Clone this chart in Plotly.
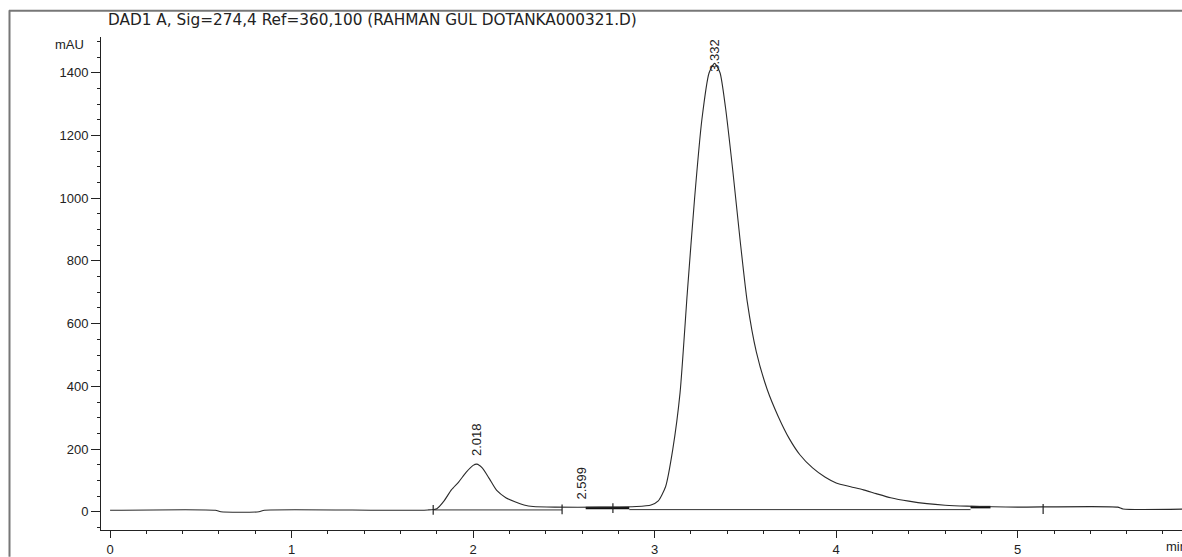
import plotly.graph_objects as go

# --- data ---
time_min = [0.0, 0.58, 0.61, 0.82, 0.85, 1.5, 1.75, 1.80, 1.84, 1.88, 1.92, 1.96, 2.00, 2.02,
            2.05, 2.09, 2.13, 2.18, 2.23, 2.28, 2.33, 2.45, 2.7, 2.9, 2.98, 3.02, 3.06, 3.10,
            3.14, 3.18, 3.22, 3.26, 3.30, 3.33, 3.36, 3.39, 3.43, 3.47, 3.51, 3.56, 3.62, 3.68,
            3.74, 3.80, 3.87, 3.94, 4.00, 4.08, 4.15, 4.22, 4.30, 4.40, 4.50, 4.60, 4.72, 4.86,
            5.0, 5.55, 5.58, 5.95]
signal_mau = [5, 5, 0, 0, 5, 5, 6, 10, 35, 70, 95, 125, 148, 152,
              140, 105, 68, 45, 32, 22, 17, 15, 15, 17, 22, 35, 80, 200,
              380, 700, 1000, 1250, 1400, 1430, 1400, 1290, 1090, 870, 670, 510, 390, 305,
              235, 182, 140, 110, 92, 80, 70, 58, 45, 34, 26, 21, 18, 16,
              15, 15, 9, 9]

baseline_x = [1.78, 2.49, None, 2.86, 4.74]
baseline_y = [6, 6, None, 7, 7]
bold_x = [2.62, 2.86, None, 4.74, 4.85]
bold_y = [12, 12, None, 15, 15]
marker_x = [1.78, 2.49, 2.77, 5.14]
marker_y = [6, 8, 12, 9]

peak_times = [2.018, 2.599, 3.332]
peak_heights = [152, 15, 1430]
peak_labels = ["2.018", "2.599", "3.332"]
peak_shift = [6, 6, -10]

y_ticks = [0, 200, 400, 600, 800, 1000, 1200, 1400]
x_ticks = [0, 1, 2, 3, 4, 5]

title_text = "DAD1 A, Sig=274,4 Ref=360,100 (RAHMAN GUL DOTANKA000321.D)"

W, H = 1182, 557
L, R, T, B = 101, 0, 37, 24
pw, ph = W - L - R, H - T - B

def px(xp):
    return (xp - L) / pw

def py(yp):
    return (H - B - yp) / ph

fig = go.Figure()
fig.add_trace(go.Scatter(x=baseline_x, y=baseline_y, mode="lines",
                         line=dict(color="#333", width=1), hoverinfo="skip"))
fig.add_trace(go.Scatter(x=bold_x, y=bold_y, mode="lines",
                         line=dict(color="#111", width=2.5), hoverinfo="skip"))
fig.add_trace(go.Scatter(x=time_min, y=signal_mau, mode="lines",
                         line=dict(color="#2a2a2a", width=1.1, shape="spline", smoothing=0.6)))
fig.add_trace(go.Scatter(x=marker_x, y=marker_y, mode="markers",
                         marker=dict(symbol="line-ns", size=7,
                                     line=dict(color="#222", width=1.2)),
                         hoverinfo="skip"))

font = dict(family="Liberation Sans, Arial, sans-serif", size=13, color="#222")

annotations = []
for t, h, lab, s in zip(peak_times, peak_heights, peak_labels, peak_shift):
    annotations.append(dict(x=t, y=h, xref="x", yref="y", text=lab, textangle=-90,
                            showarrow=False, yanchor="bottom", xanchor="center",
                            yshift=s, font=dict(family="Liberation Sans, Arial, sans-serif",
                                                size=13, color="#222")))
annotations.append(dict(x=px(106), y=py(20), xref="paper", yref="paper", text=title_text,
                        showarrow=False, xanchor="left", yanchor="middle",
                        font=dict(family="DejaVu Sans, sans-serif", size=15.3,
                                  color="#222")))
annotations.append(dict(x=px(86), y=py(45), xref="paper", yref="paper", text="mAU",
                        showarrow=False, xanchor="right", yanchor="middle", font=font))
annotations.append(dict(x=px(1164), y=py(550), xref="paper", yref="paper", text="min",
                        showarrow=False, xanchor="left", yanchor="middle", font=font))

shapes = [
    dict(type="line", xref="paper", yref="paper", x0=px(9.5), x1=px(9.5), y0=py(10), y1=py(560),
         line=dict(color="#777", width=2)),
    dict(type="line", xref="paper", yref="paper", x0=px(9), x1=px(1190), y0=py(10.5), y1=py(10.5),
         line=dict(color="#777", width=2)),
]

fig.update_layout(
    width=W, height=H,
    margin=dict(l=L, r=R, t=T, b=B),
    paper_bgcolor="white", plot_bgcolor="white",
    showlegend=False,
    annotations=annotations,
    shapes=shapes,
    font=font,
)
fig.update_xaxes(range=[-0.05, 5.905], tickvals=x_ticks, showgrid=False, zeroline=False,
                 showline=True, linecolor="#222", linewidth=1,
                 ticks="outside", ticklen=7, tickcolor="#222", tickfont=font,
                 minor=dict(dtick=0.2, ticks="outside", ticklen=3, tickcolor="#222"))
fig.update_yaxes(range=[-58, 1514], tickvals=y_ticks, showgrid=False, zeroline=False,
                 showline=True, linecolor="#222", linewidth=1,
                 ticks="outside", ticklen=9, tickcolor="#222", tickfont=font,
                 minor=dict(dtick=50, ticks="outside", ticklen=3, tickcolor="#222"))

fig.write_html("out.html")
